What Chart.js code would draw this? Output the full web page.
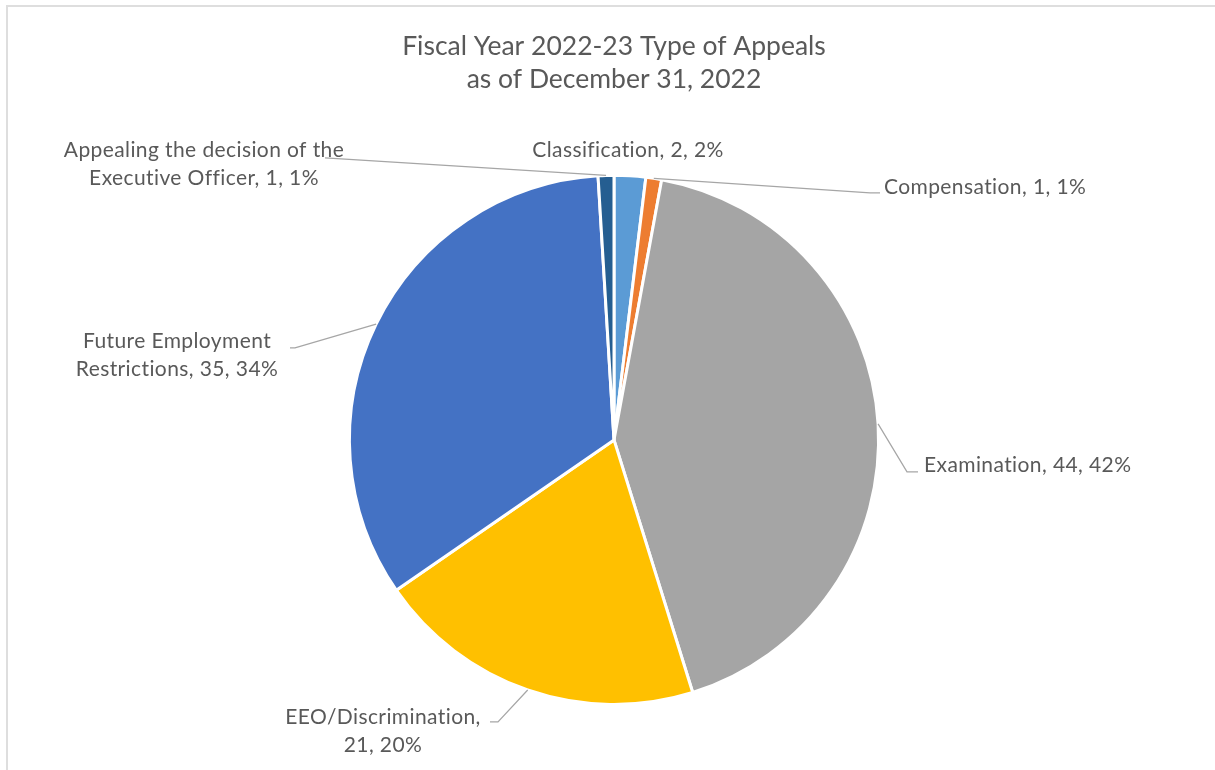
<!DOCTYPE html>
<html>
<head>
<meta charset="utf-8">
<script src="https://cdn.jsdelivr.net/npm/chart.js@4"></script>
<style>
  body { margin: 0; background: #fff; }
  #wrap { position: relative; width: 1215px; height: 770px; overflow: hidden; }
  #frame { position: absolute; left: 6px; top: 5px; width: 1300px; height: 900px; border: 2px solid #dedede; }
  canvas { position: absolute; left: 0; top: 0; }
</style>
</head>
<body>
<div id="wrap">
  <div id="frame"></div>
  <canvas id="appealsChart" width="1215" height="770"></canvas>
</div>
<script>
// Data (Excel pie, starts at 12 o'clock, clockwise)
const categories = [
  'Classification',
  'Compensation',
  'Examination',
  'EEO/Discrimination',
  'Future Employment Restrictions',
  'Appealing the decision of the Executive Officer'
];
const appealCounts = [2, 1, 44, 21, 35, 1];
const sliceColors = ['#5B9BD5', '#ED7D31', '#A5A5A5', '#FFC000', '#4472C4', '#255E91'];
const titleLines = ['Fiscal Year 2022-23 Type of Appeals', 'as of December 31, 2022'];

// Label placement, offsets from the pie centre (px)
// elbow: where the leader line bends, tail: horizontal run, text: block anchor
const labelLayout = [
  { text: [14, -290], align: 'center', wrap: 400 },
  { elbow: [256, -247], tail: 10, text: [270, -253], align: 'left', wrap: 400 },
  { elbow: [293, 32], tail: 11, text: [310, 25], align: 'left', wrap: 400 },
  { elbow: [-116, 282], tail: -8, text: [-231, 291], align: 'center', wrap: 212 },
  { elbow: [-319, -92], tail: -5, text: [-437, -85], align: 'center', wrap: 218 },
  { elbow: [-289, -282], tail: 0, text: [-410, -276], align: 'center', wrap: 300 }
];

const textColor = '#595959';
const labelFont = '21px Lato';

function wrapText(ctx, str, maxWidth) {
  const words = str.split(' ');
  const lines = [];
  let line = '';
  words.forEach(w => {
    const test = line ? line + ' ' + w : w;
    if (line && ctx.measureText(test).width > maxWidth) {
      lines.push(line);
      line = w;
    } else {
      line = test;
    }
  });
  if (line) lines.push(line);
  return lines;
}

// Draws Excel-style "category, value, percent" labels with leader lines
const pieLabels = {
  id: 'pieLabels',
  afterDraw(chart) {
    const ctx = chart.ctx;
    const meta = chart.getDatasetMeta(0);
    const total = appealCounts.reduce((a, b) => a + b, 0);
    ctx.save();
    ctx.font = labelFont;
    ctx.letterSpacing = '0.4px'; // a touch wider, closer to the original Calibri
    meta.data.forEach((arc, i) => {
      const { x, y, startAngle, endAngle, outerRadius } = arc.getProps(['x', 'y', 'startAngle', 'endAngle', 'outerRadius'], true);
      const lay = labelLayout[i];
      const mid = (startAngle + endAngle) / 2;

      if (lay.elbow) {
        const ex = x + lay.elbow[0];
        const ey = y + lay.elbow[1];
        ctx.strokeStyle = '#a6a6a6';
        ctx.lineWidth = 1.25;
        ctx.beginPath();
        ctx.moveTo(x + Math.cos(mid) * outerRadius, y + Math.sin(mid) * outerRadius);
        ctx.lineTo(ex, ey);
        if (lay.tail) ctx.lineTo(ex + lay.tail, ey);
        ctx.stroke();
      }

      const pct = Math.round(appealCounts[i] / total * 100);
      const str = `${categories[i]}, ${appealCounts[i]}, ${pct}%`;
      const lines = wrapText(ctx, str, lay.wrap);
      const lineH = 28;
      const tx = x + lay.text[0];
      const ty = y + lay.text[1] - (lines.length - 1) * lineH / 2;
      ctx.fillStyle = textColor;
      ctx.textBaseline = 'middle';
      ctx.textAlign = lay.align;
      lines.forEach((ln, k) => ctx.fillText(ln, tx, ty + k * lineH));
    });
    ctx.restore();
  }
};

const ctx = document.getElementById('appealsChart').getContext('2d');
new Chart(ctx, {
  type: 'pie',
  data: {
    labels: categories,
    datasets: [{
      data: appealCounts,
      backgroundColor: sliceColors,
      borderColor: '#ffffff',
      borderWidth: 3,
    }],
  },
  options: {
    responsive: false,
    animation: false,
    layout: { padding: { left: 100, right: 87, top: 0, bottom: 64 } },
    plugins: {
      legend: { display: false },
      tooltip: { enabled: false },
      title: {
        display: true,
        text: titleLines,
        color: textColor,
        font: { family: 'Lato', size: 26.5, weight: 'normal', lineHeight: 1.28 },
        padding: { top: 29, bottom: 77 },
      },
    },
  },
  plugins: [pieLabels],
});
</script>
</body>
</html>
